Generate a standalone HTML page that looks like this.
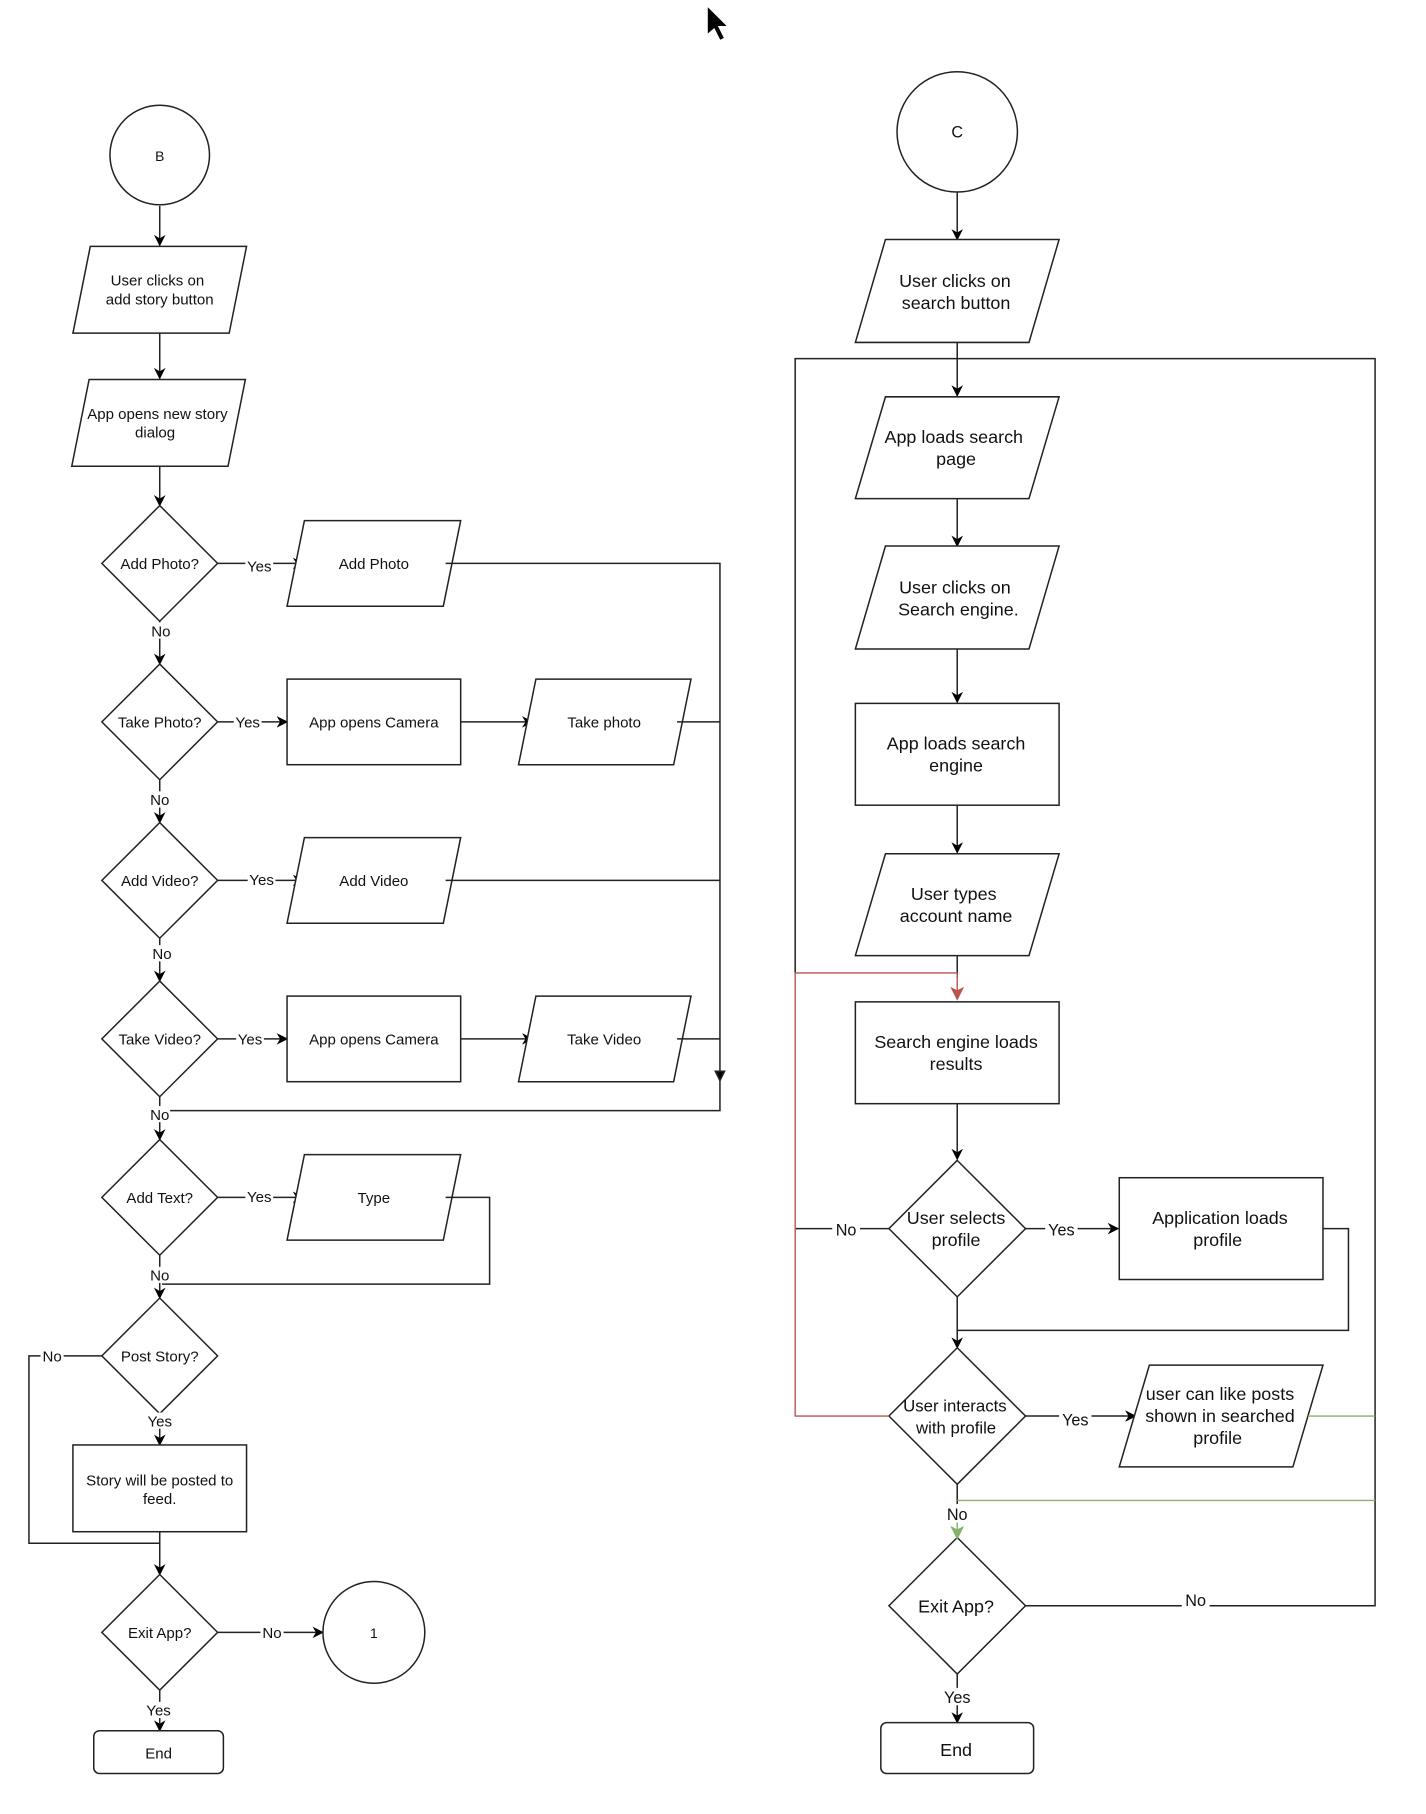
<!DOCTYPE html>
<html><head><meta charset="utf-8"><style>
html,body{margin:0;padding:0;background:#fff;}
svg{display:block;}
text{font-family:"Liberation Sans",sans-serif;fill:#111;text-anchor:middle;}
.s{font-size:13px;}
.m{font-size:15.5px;}
</style></head><body>
<svg width="1426" height="1814" viewBox="0 0 1232 1568" preserveAspectRatio="none" xmlns="http://www.w3.org/2000/svg">
<defs>
<marker id="a" markerWidth="10" markerHeight="10" refX="9" refY="5" orient="auto" markerUnits="userSpaceOnUse"><path d="M0,0 L10,5 L0,10 L3,5 Z" fill="#000"/></marker>
<marker id="ar" markerWidth="12" markerHeight="12" refX="11" refY="6" orient="auto" markerUnits="userSpaceOnUse"><path d="M0,0 L12,6 L0,12 L3,6 Z" fill="#b85450"/></marker>
<marker id="ag" markerWidth="12" markerHeight="12" refX="11" refY="6" orient="auto" markerUnits="userSpaceOnUse"><path d="M0,0 L12,6 L0,12 L3,6 Z" fill="#82b366"/></marker>
</defs>
<rect x="1236" y="0" width="10" height="1568" fill="#f6f6f6"/>
<path d="M611,5 L611,30 L617,25 L622,35 L626,33 L621,23 L629,23 Z" fill="#000" stroke="#fff" stroke-width="1"/>
<g fill="none" stroke="#222" stroke-width="1.3">
<!-- LEFT -->
<circle cx="138" cy="134" r="43" fill="#fff"/>
<line x1="138" y1="178" x2="138" y2="212" marker-end="url(#a)"/>
<polygon points="78,213 213,213 198,288 63,288" fill="#fff"/>
<line x1="138" y1="288" x2="138" y2="327" marker-end="url(#a)"/>
<polygon points="77,328 212,328 197,403 62,403" fill="#fff"/>
<line x1="138" y1="403" x2="138" y2="437" marker-end="url(#a)"/>
<polygon points="138,437 188,487 138,537 88,487" fill="#fff"/>
<line x1="188" y1="487" x2="262" y2="487" marker-end="url(#a)"/>
<polygon points="263,450 398,450 383,524 248,524" fill="#fff"/>
<polyline points="385,487 622,487 622,930"/>
<path d="M618,926 L622,934 L626,926 Z" fill="#000"/>
<line x1="138" y1="537" x2="138" y2="574" marker-end="url(#a)"/>
<polygon points="138,574 188,624 138,674 88,624" fill="#fff"/>
<line x1="188" y1="624" x2="248" y2="624" marker-end="url(#a)"/>
<rect x="248" y="587" width="150" height="74" fill="#fff"/>
<line x1="398" y1="624" x2="460" y2="624" marker-end="url(#a)"/>
<polygon points="463,587 597,587 582,661 448,661" fill="#fff"/>
<line x1="585" y1="624" x2="622" y2="624"/>
<line x1="138" y1="674" x2="138" y2="711" marker-end="url(#a)"/>
<polygon points="138,711 188,761 138,811 88,761" fill="#fff"/>
<line x1="188" y1="761" x2="262" y2="761" marker-end="url(#a)"/>
<polygon points="263,724 398,724 383,798 248,798" fill="#fff"/>
<line x1="385" y1="761" x2="622" y2="761"/>
<line x1="138" y1="811" x2="138" y2="848" marker-end="url(#a)"/>
<polygon points="138,848 188,898 138,948 88,898" fill="#fff"/>
<line x1="188" y1="898" x2="248" y2="898" marker-end="url(#a)"/>
<rect x="248" y="861" width="150" height="74" fill="#fff"/>
<line x1="398" y1="898" x2="460" y2="898" marker-end="url(#a)"/>
<polygon points="463,861 597,861 582,935 448,935" fill="#fff"/>
<line x1="585" y1="898" x2="622" y2="898"/>
<polyline points="622,934 622,960 140,960"/>
<line x1="138" y1="948" x2="138" y2="985" marker-end="url(#a)"/>
<polygon points="138,985 188,1035 138,1085 88,1035" fill="#fff"/>
<line x1="188" y1="1035" x2="262" y2="1035" marker-end="url(#a)"/>
<polygon points="263,998 398,998 383,1072 248,1072" fill="#fff"/>
<polyline points="385,1035 423,1035 423,1110 140,1110"/>
<line x1="138" y1="1085" x2="138" y2="1122" marker-end="url(#a)"/>
<polygon points="138,1122 188,1172 138,1222 88,1172" fill="#fff"/>
<polyline points="88,1172 25,1172 25,1334 138,1334"/>
<line x1="138" y1="1222" x2="138" y2="1249" marker-end="url(#a)"/>
<rect x="63" y="1249" width="150" height="75" fill="#fff"/>
<line x1="138" y1="1324" x2="138" y2="1361" marker-end="url(#a)"/>
<polygon points="138,1361 188,1411 138,1461 88,1411" fill="#fff"/>
<line x1="188" y1="1411" x2="279" y2="1411" marker-end="url(#a)"/>
<circle cx="323" cy="1411" r="44" fill="#fff"/>
<line x1="138" y1="1461" x2="138" y2="1496" marker-end="url(#a)"/>
<rect x="81" y="1496" width="112" height="37" rx="5" fill="#fff"/>
<!-- RIGHT -->
<circle cx="827" cy="114" r="52" fill="#fff"/>
<line x1="827" y1="166" x2="827" y2="207" marker-end="url(#a)"/>
<polygon points="765,207 915,207 889,296 739,296" fill="#fff"/>
<polyline points="687,841 687,310 1188,310 1188,1388 886,1388"/>
<line x1="827" y1="296" x2="827" y2="342" marker-end="url(#a)"/>
<polygon points="765,343 915,343 889,431 739,431" fill="#fff"/>
<line x1="827" y1="431" x2="827" y2="472" marker-end="url(#a)"/>
<polygon points="765,472 915,472 889,561 739,561" fill="#fff"/>
<line x1="827" y1="561" x2="827" y2="607" marker-end="url(#a)"/>
<rect x="739" y="608" width="176" height="88" fill="#fff"/>
<line x1="827" y1="696" x2="827" y2="737" marker-end="url(#a)"/>
<polygon points="765,738 915,738 889,826 739,826" fill="#fff"/>
<line x1="827" y1="826" x2="827" y2="845"/>
<rect x="739" y="866" width="176" height="88" fill="#fff"/>
<line x1="827" y1="954" x2="827" y2="1002" marker-end="url(#a)"/>
<polygon points="827,1003 886,1062 827,1121 768,1062" fill="#fff"/>
<line x1="768" y1="1062" x2="687" y2="1062"/>
<line x1="886" y1="1062" x2="966" y2="1062" marker-end="url(#a)"/>
<rect x="967" y="1018" width="176" height="88" fill="#fff"/>
<polyline points="1143,1062 1165,1062 1165,1150 827,1150"/>
<line x1="827" y1="1121" x2="827" y2="1165" marker-end="url(#a)"/>
<polygon points="827,1165 886,1224 827,1283 768,1224" fill="#fff"/>
<line x1="886" y1="1224" x2="981" y2="1224" marker-end="url(#a)"/>
<polygon points="993,1180 1143,1180 1117,1268 967,1268" fill="#fff"/>
<line x1="827" y1="1283" x2="827" y2="1300"/>
<polygon points="827,1329 886,1388 827,1447 768,1388" fill="#fff"/>
<line x1="827" y1="1447" x2="827" y2="1489" marker-end="url(#a)"/>
<rect x="761" y="1489" width="132" height="44" rx="5" fill="#fff"/>
</g>
<g fill="none" stroke="#b85450" stroke-width="1.2">
<polyline points="768,1224 687,1224 687,841 827,841 827,864" marker-end="url(#ar)"/>
</g>
<g fill="none" stroke="#82b366" stroke-width="1.2">
<line x1="1130" y1="1224" x2="1188" y2="1224"/>
<line x1="827" y1="1297" x2="1188" y2="1297"/>
<line x1="827" y1="1316" x2="827" y2="1330" marker-end="url(#ag)"/>
</g>
<g class="s">
<text x="138" y="139" font-size="12">B</text>
<text x="136" y="247">User clicks on</text><text x="138" y="263">add story button</text>
<text x="136" y="362">App opens new story</text><text x="134" y="378">dialog</text>
<text x="138" y="492">Add Photo?</text>
<text x="323" y="492">Add Photo</text>
<text x="138" y="629">Take Photo?</text>
<text x="323" y="629">App opens Camera</text>
<text x="522" y="629">Take photo</text>
<text x="138" y="766">Add Video?</text>
<text x="323" y="766">Add Video</text>
<text x="138" y="903">Take Video?</text>
<text x="323" y="903">App opens Camera</text>
<text x="522" y="903">Take Video</text>
<text x="138" y="1040">Add Text?</text>
<text x="323" y="1040">Type</text>
<text x="138" y="1177">Post Story?</text>
<text x="138" y="1284">Story will be posted to</text><text x="138" y="1300">feed.</text>
<text x="138" y="1416">Exit App?</text>
<text x="323" y="1416" font-size="12">1</text>
<text x="137" y="1520">End</text>
</g>
<g class="s">
<rect x="212" y="482" width="24" height="14" fill="#fff"/><text x="224" y="494">Yes</text>
<rect x="130" y="538" width="18" height="14" fill="#fff"/><text x="139" y="550">No</text>
<rect x="202" y="617" width="24" height="14" fill="#fff"/><text x="214" y="629">Yes</text>
<rect x="129" y="684" width="18" height="14" fill="#fff"/><text x="138" y="696">No</text>
<rect x="214" y="753" width="24" height="14" fill="#fff"/><text x="226" y="765">Yes</text>
<rect x="131" y="817" width="18" height="14" fill="#fff"/><text x="140" y="829">No</text>
<rect x="204" y="891" width="24" height="14" fill="#fff"/><text x="216" y="903">Yes</text>
<rect x="129" y="956" width="18" height="14" fill="#fff"/><text x="138" y="968">No</text>
<rect x="212" y="1027" width="24" height="14" fill="#fff"/><text x="224" y="1039">Yes</text>
<rect x="129" y="1095" width="18" height="14" fill="#fff"/><text x="138" y="1107">No</text>
<rect x="35" y="1165" width="20" height="14" fill="#fff"/><text x="45" y="1177">No</text>
<rect x="126" y="1221" width="24" height="14" fill="#fff"/><text x="138" y="1233">Yes</text>
<rect x="225" y="1404" width="20" height="14" fill="#fff"/><text x="235" y="1416">No</text>
<rect x="125" y="1471" width="24" height="14" fill="#fff"/><text x="137" y="1483">Yes</text>
</g>
<g class="m">
<text x="827" y="119" font-size="14">C</text>
<text x="825" y="248">User clicks on</text><text x="826" y="267">search button</text>
<text x="824" y="383">App loads search</text><text x="826" y="402">page</text>
<text x="825" y="513">User clicks on</text><text x="828" y="532">Search engine.</text>
<text x="826" y="648">App loads search</text><text x="826" y="667">engine</text>
<text x="824" y="778">User types</text><text x="826" y="797">account name</text>
<text x="826" y="906">Search engine loads</text><text x="826" y="925">results</text>
<text x="826" y="1058">User selects</text><text x="826" y="1077">profile</text>
<text x="1054" y="1058">Application loads</text><text x="1052" y="1077">profile</text>
<text x="825" y="1220" font-size="14.5">User interacts</text><text x="826" y="1239" font-size="14.5">with profile</text>
<text x="1054" y="1210">user can like posts</text><text x="1054" y="1229">shown in searched</text><text x="1052" y="1248">profile</text>
<text x="826" y="1394">Exit App?</text>
<text x="826" y="1518">End</text>
<rect x="719" y="1055" width="24" height="15" fill="#fff"/><text x="731" y="1068" font-size="14">No</text>
<rect x="903" y="1055" width="28" height="15" fill="#fff"/><text x="917" y="1068" font-size="14">Yes</text>
<rect x="915" y="1219" width="28" height="15" fill="#fff"/><text x="929" y="1232" font-size="14">Yes</text>
<text x="827" y="1314" font-size="14">No</text>
<rect x="1021" y="1376" width="24" height="15" fill="#fff"/><text x="1033" y="1388" font-size="14">No</text>
<rect x="812" y="1459" width="30" height="15" fill="#fff"/><text x="827" y="1472" font-size="14">Yes</text>
</g>
</svg>
</body></html>
